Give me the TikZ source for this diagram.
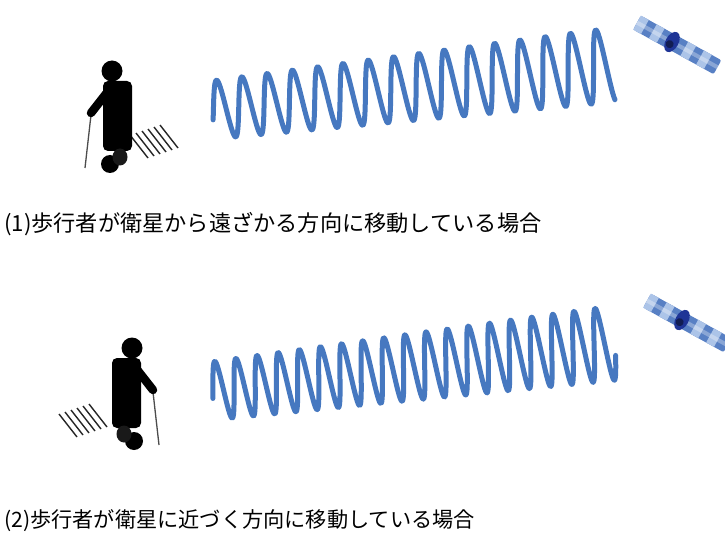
\documentclass[tikz,border=0pt]{standalone}
\usepackage{fontspec}
\newfontfamily\jpfont{Noto Sans CJK JP}

\definecolor{waveblue}{RGB}{70,120,192}
\definecolor{satlight}{RGB}{172,196,232}
\definecolor{satdark}{RGB}{88,128,196}
\definecolor{hubblue}{RGB}{30,52,150}

\tikzset{
  wave/.style={waveblue,line width=5pt,line cap=round,line join=round},
  caption/.style={anchor=west,inner sep=0pt,font=\jpfont},
  pics/walker/.style={code={
    \draw[black!70,line width=1.3pt] (-26,-36) -- (-32,17);
    \draw[black,line width=8.5pt,line cap=round] (-8,-61) -- (-26,-38);
    \fill[black,rounded corners=5pt] (-14,-70) rectangle (15,0);
    \fill[black] (-5,-80) circle (10.5pt);
    \fill[black] (-7,13) ellipse (9pt and 9pt);
    \fill[black!90] (3,6) ellipse (7.5pt and 8.5pt);
  }},
  pics/hatch/.style={code={
    \foreach \i in {0,...,5}
      \draw[black!85,line width=1.4pt] (6*\i,-2*\i) -- ++(18,23);
  }},
  pics/satellite/.style={code={
    \fill[satdark,rounded corners=2pt] (-40,-8) rectangle (52,8);
    \foreach \s in {-40,-22,-4,14,32}
      \fill[satlight] (\s,-8) rectangle ++(9,16);
    \fill[white,opacity=.3] (-40,-2) rectangle (52,2);
    \fill[hubblue] (0,0) ellipse (6.5pt and 11pt);
    \fill[hubblue!55!black] (-1,3) circle (4pt);
  }}
}

\begin{document}
\begin{tikzpicture}[x=1pt,y=-1pt]
\useasboundingbox (0,0) rectangle (725,540);
\fill[white] (0,0) rectangle (725,540);
\clip (0,0) rectangle (725,540);

% walking away
\pic at (130,135) {hatch};
\pic at (117,151) {walker};
\begin{scope}[shift={(212,110)},rotate=6.4]
  \draw[wave] plot[domain=0:401.6,samples=600,smooth,variable=\t]
    (\t,{-(29+\t/400*8)*sin(\t/25.5*360-20)});
\end{scope}
\pic[rotate=-29] at (672,42) {satellite};
\node[caption,font=\jpfont\fontsize{22.2}{25}\selectfont] (capa) at (4,224)
  {(1)歩行者が衛星から遠ざかる方向に移動している場合};

% walking towards
\pic at (59,414) {hatch};
\pic[xscale=-1] at (127,428) {walker};
\begin{scope}[shift={(212,391)},rotate=6.8]
  \draw[wave] plot[domain=0:405,samples=700,smooth,variable=\t]
    (\t,{-(29+\t/405*8)*sin(\t/21.33*360-15)});
\end{scope}
\pic[rotate=-29] at (682,320) {satellite};
\node[caption,font=\jpfont\fontsize{21.2}{24}\selectfont] (capb) at (4,521)
  {(2)歩行者が衛星に近づく方向に移動している場合};
\end{tikzpicture}
\end{document}
